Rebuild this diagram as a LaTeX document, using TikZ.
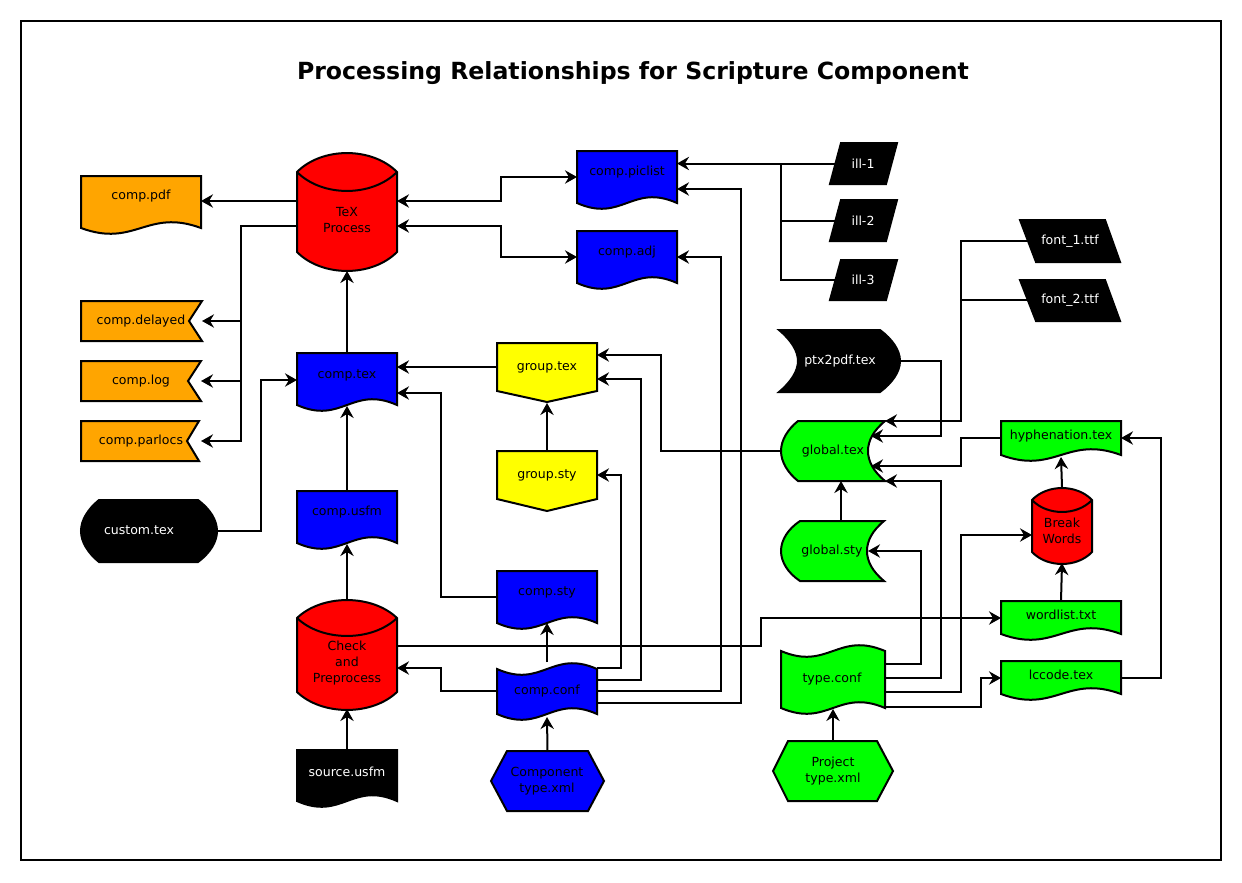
\documentclass[tikz,border=0pt]{standalone}
\usepackage{fontspec}
\setmainfont{DejaVu Sans}
\usetikzlibrary{arrows.meta}
\definecolor{dorange}{HTML}{FFA500}
\definecolor{dgreen}{HTML}{00FF00}
\definecolor{dblue}{HTML}{0000FF}
\definecolor{dred}{HTML}{FF0000}
\definecolor{dyellow}{HTML}{FFFF00}
\newcommand\docshape[5]{%
 \filldraw[shp,fill=#1] (#2,#3) -- (#4,#3) -- (#4,#5) .. controls ({#2+0.55*(#4-#2)},{#5-20}) and ({#2+0.45*(#4-#2)},{#5+20}) .. (#2,#5) -- cycle;}
\newcommand\tapeshape[5]{%
 \filldraw[shp,fill=#1] (#2,#3) .. controls ({#2+0.45*(#4-#2)},{#3+20}) and ({#2+0.55*(#4-#2)},{#3-20}) .. (#4,#3) -- (#4,#5) .. controls ({#2+0.55*(#4-#2)},{#5-20}) and ({#2+0.45*(#4-#2)},{#5+20}) .. (#2,#5) -- cycle;}
\newcommand\cylshape[6]{%
 \filldraw[shp,fill=#1] (#2,#4) .. controls ({#2+0.25*(#3-#2)},{#4-1.33*#6}) and ({#3-0.25*(#3-#2)},{#4-1.33*#6}) .. (#3,#4) -- (#3,#5) .. controls ({#3-0.25*(#3-#2)},{#5+1.33*#6}) and ({#2+0.25*(#3-#2)},{#5+1.33*#6}) .. (#2,#5) -- cycle;
 \draw[shp] (#2,#4) .. controls ({#2+0.25*(#3-#2)},{#4+1.33*#6}) and ({#3-0.25*(#3-#2)},{#4+1.33*#6}) .. (#3,#4);}
\newcommand\flagshape[6]{%
 \filldraw[shp,fill=#1] (#2,#3) -- (#4,#3) -- (#6,{(#3+#5)/2}) -- (#4,#5) -- (#2,#5) -- cycle;}
\newcommand\pentshape[6]{%
 \filldraw[shp,fill=#1] (#2,#3) -- (#4,#3) -- (#4,#5) -- ({(#2+#4)/2},#6) -- (#2,#5) -- cycle;}
\newcommand\hexshape[7]{%
 \filldraw[shp,fill=#1] (#2,{(#6+#7)/2}) -- (#3,#6) -- (#4,#6) -- (#5,{(#6+#7)/2}) -- (#4,#7) -- (#3,#7) -- cycle;}
\newcommand\parashape[6]{%
 \filldraw[shp,fill=black] (#1,#5) -- (#2,#5) -- (#4,#6) -- (#3,#6) -- cycle;}
\newcommand\boxnode[5]{%
 \pgfmathsetmacro\bxw{(#4-#2)*0.75}\pgfmathsetmacro\bxh{(#5-#3)*0.75}%
 \node[inner sep=0pt,outer sep=0pt,minimum width=\bxw pt,minimum height=\bxh pt] (#1) at ({(#2+#4)/2},{(#3+#5)/2}) {};}
\begin{document}
\begin{tikzpicture}[x=0.75pt,y=-0.75pt,
  conn/.style={line width=1.5pt,line join=miter},
  arr/.style={conn,-{Stealth[length=9pt,width=10pt,inset=3pt]}},
  arrb/.style={conn,{Stealth[length=9pt,width=10pt,inset=3pt]}-{Stealth[length=9pt,width=10pt,inset=3pt]}},
  shp/.style={line width=1.5pt,draw=black,line join=miter},
  lbl/.style={font=\fontsize{9.4}{12}\selectfont,align=center,inner sep=0pt},
  wlbl/.style={lbl,text=white}]
\fill[white] (0,0) rectangle (1242,882);
\useasboundingbox (0,0) rectangle (1242,882);
\draw[line width=1.9pt] (21,21) rectangle (1221,860);
\node[font=\bfseries\fontsize{17.7}{20}\selectfont] (title) at (633,73) {Processing Relationships for Scripture Component};

% ---- node boxes
\boxnode{cpdf}{81}{176}{201}{234}
\boxnode{tex}{297}{151}{397}{271}
\boxnode{cdel}{81}{301}{202}{341}
\boxnode{clog}{81}{361}{201}{401}
\boxnode{cpar}{81}{421}{199}{461}
\boxnode{cust}{81}{500}{217}{562}
\boxnode{ctex}{297}{353}{397}{411}
\boxnode{cusfm}{297}{491}{397}{549}
\boxnode{chk}{297}{601}{397}{709}
\boxnode{src}{297}{750}{397}{808}
\boxnode{pic}{577}{151}{677}{209}
\boxnode{adj}{577}{231}{677}{289}
\boxnode{illa}{836}{143}{891}{184}
\boxnode{illb}{836}{200}{891}{241}
\boxnode{illc}{836}{260}{891}{300}
\boxnode{fa}{1028}{220}{1112}{262}
\boxnode{fb}{1028}{280}{1112}{320}
\boxnode{ptx}{779}{330}{900}{392}
\boxnode{gltex}{781}{421}{885}{481}
\boxnode{glsty}{781}{521}{885}{581}
\boxnode{hyp}{1001}{421}{1121}{461}
\boxnode{bw}{1032}{487}{1092}{563}
\boxnode{wl}{1001}{601}{1121}{639}
\boxnode{lcc}{1001}{661}{1121}{699}
\boxnode{tconf}{781}{643}{885}{716}
\boxnode{cconf}{497}{662}{597}{720}
\boxnode{ctype}{491}{751}{604}{811}
\boxnode{ptype}{773}{741}{893}{801}
\boxnode{gtex}{497}{343}{597}{403}
\boxnode{gsty}{497}{451}{597}{511}
\boxnode{csty}{497}{571}{597}{630}

% ---- connectors
\draw[arr] (tex.west |- 0,201) -- (cpdf.east |- 0,201);
\draw[arr] (tex.west |- 0,226) -- (241,226) |- (cdel.east);
\draw[arr] (tex.west |- 0,226) -- (241,226) |- (clog.east);
\draw[arr] (tex.west |- 0,226) -- (241,226) |- ([xshift=1.5pt]cpar.east);
\draw[arr] (ctex.north) -- (tex.south);
\draw[arrb] (tex.east |- 0,201) -- (501,201) |- (pic.west |- 0,177);
\draw[arrb] (tex.east |- 0,226) -- (501,226) |- (adj.west |- 0,257);
\draw[arr] (illa.west) -- (pic.east |- 0,163.5);
\draw[conn] (illb.west) -- (781,220.5) -- (781,163.5);
\draw[conn] (illc.west) -- (781,280) -- (781,163.5);
\draw[arr] (cconf.east |- 0,703) -- (741,703) |- (pic.east |- 0,189);
\draw[arr] (cconf.east |- 0,691) -- (721,691) |- (adj.east |- 0,257);
\draw[arr] (cconf.east |- 0,680) -- (641,680) |- (gtex.east |- 0,379);
\draw[arr] (cconf.east |- 0,668) -- (621,668) |- (gsty.east |- 0,475);
\draw[arr] (gltex.west) -- (661,451) |- (gtex.east |- 0,355);
\draw[arr] (gtex.west |- 0,367) -- (ctex.east |- 0,367);
\draw[arr] (csty.west |- 0,597) -- (441,597) |- (ctex.east |- 0,393);
\draw[arr] (gsty.north) -- (gtex.south);
\draw[arr] (cconf.north) -- (csty.center |- 0,623);
\draw[arr] (cconf.west |- 0,691) -- (441,691) |- (chk.east |- 0,668);
\draw[arr] (ctype.north) -- (cconf.center |- 0,717);
\draw[arr] (src.north) -- (chk.south);
\draw[arr] (chk.north) -- (cusfm.center |- 0,544);
\draw[arr] (cusfm.north) -- (ctex.center |- 0,406);
\draw[arr] (cust.east) -- (261,531) |- (ctex.west |- 0,380);
\draw[arr] (chk.east |- 0,646) -- (761,646) |- (wl.west |- 0,618);
\draw[arr] (ptx.east) -- (941,361) |- (871,436);
\draw[arr] (fa.west) -- (961,241) |- (gltex.north east);
\draw[conn] (fb.west) -- (961,300);
\draw[arr] (hyp.west |- 0,438) -- (961,438) |- (871,466);
\draw[arr] (tconf.east |- 0,678) -- (941,678) |- (gltex.south east);
\draw[arr] (tconf.east |- 0,664) -- (921,664) |- (868,551);
\draw[arr] (glsty.north -| 841,0) -- (gltex.south -| 841,0);
\draw[arr] (tconf.east |- 0,692) -- (961,692) |- (bw.west |- 0,535);
\draw[arr] (tconf.east |- 0,707) -- (981,707) |- (lcc.west |- 0,678);
\draw[arr] (lcc.east |- 0,678) -- (1161,678) |- (hyp.east |- 0,438);
\draw[arr] (bw.north) -- (hyp.center |- 0,457);
\draw[arr] (wl.north) -- (bw.south);
\draw[arr] (ptype.north) -- (tconf.center |- 0,709);

% ---- shapes
\docshape{dorange}{81}{176}{201}{228}
\cylshape{dred}{297}{397}{172}{252}{19}
\flagshape{dorange}{81}{301}{202}{341}{189}
\flagshape{dorange}{81}{361}{201}{401}{188}
\flagshape{dorange}{81}{421}{199}{461}{187}
\filldraw[shp,fill=black] (99,500) -- (198,500) .. controls (210,509) and (217,520) .. (217,531) .. controls (217,542) and (210,553) .. (198,562) -- (99,562) .. controls (88,553) and (81,542) .. (81,531) .. controls (81,520) and (88,509) .. (99,500) -- cycle;
\docshape{dblue}{297}{353}{397}{405}
\docshape{dblue}{297}{491}{397}{543}
\cylshape{dred}{297}{397}{618}{692}{18}
\docshape{black}{297}{750}{397}{801}
\docshape{dblue}{577}{151}{677}{203}
\docshape{dblue}{577}{231}{677}{283}
\parashape{841}{897}{830}{886}{143}{184}
\parashape{841}{897}{830}{886}{200}{241}
\parashape{841}{897}{830}{886}{260}{300}
\parashape{1020}{1105}{1036}{1120}{220}{262}
\parashape{1020}{1105}{1036}{1120}{280}{321}
\filldraw[shp,fill=black] (779,330) -- (880,330) .. controls (892,339) and (900,350) .. (900,361) .. controls (900,372) and (892,383) .. (880,392) -- (779,392) .. controls (791,382) and (798,371) .. (798,361) .. controls (798,351) and (791,340) .. (779,330) -- cycle;
\filldraw[shp,fill=dgreen] (798,421) -- (885,421) .. controls (873,431) and (868,441) .. (868,451) .. controls (868,461) and (873,471) .. (885,481) -- (798,481) .. controls (788,473) and (781,462) .. (781,451) .. controls (781,440) and (788,429) .. (798,421) -- cycle;
\filldraw[shp,fill=dgreen] (800,521) -- (884,521) .. controls (872,531) and (867,541) .. (867,551) .. controls (867,561) and (872,571) .. (884,581) -- (800,581) .. controls (788,573) and (781,562) .. (781,551) .. controls (781,540) and (788,529) .. (800,521) -- cycle;
\docshape{dgreen}{1001}{421}{1121}{455}
\cylshape{dred}{1032}{1092}{500}{552}{12}
\docshape{dgreen}{1001}{601}{1121}{634}
\docshape{dgreen}{1001}{661}{1121}{694}
\tapeshape{dgreen}{781}{651}{885}{708}
\tapeshape{dblue}{497}{669}{597}{714}
\hexshape{dblue}{491}{507}{588}{604}{751}{811}
\hexshape{dgreen}{773}{788}{877}{893}{741}{801}
\pentshape{dyellow}{497}{343}{597}{391}{402}
\pentshape{dyellow}{497}{451}{597}{499}{511}
\docshape{dblue}{497}{571}{597}{623}

% ---- labels
\node[lbl] (tcpdf) at (141,196) {comp.pdf};
\node[lbl] (ttex) at (347,220) {TeX\\Process};
\node[lbl] (tcdel) at (141,321) {comp.delayed};
\node[lbl] (tclog) at (141,381) {comp.log};
\node[lbl] (tcpar) at (141,441) {comp.parlocs};
\node[wlbl] (tcust) at (139,530) {custom.tex};
\node[lbl] (tctex) at (347,375) {comp.tex};
\node[lbl] (tcusfm) at (347,512) {comp.usfm};
\node[lbl] (tchk) at (347,663) {Check\\and\\Preprocess};
\node[wlbl] (tsrc) at (347,772) {source.usfm};
\node[lbl] (tpic) at (627,172) {comp.piclist};
\node[lbl] (tadj) at (627,252) {comp.adj};
\node[wlbl] (tilla) at (863,164) {ill-1};
\node[wlbl] (tillb) at (863,221) {ill-2};
\node[wlbl] (tillc) at (863,280) {ill-3};
\node[wlbl] (tfa) at (1070,241) {font\_1.ttf};
\node[wlbl] (tfb) at (1070,300) {font\_2.ttf};
\node[wlbl] (tptx) at (840,361) {ptx2pdf.tex};
\node[lbl] (tgltex) at (833,451) {global.tex};
\node[lbl] (tglsty) at (832,551) {global.sty};
\node[lbl] (thyp) at (1061,436) {hyphenation.tex};
\node[lbl] (tbw) at (1062,531) {Break\\Words};
\node[lbl] (twl) at (1061,615) {wordlist.txt};
\node[lbl] (tlcc) at (1061,675) {lccode.tex};
\node[lbl] (ttconf) at (832,679) {type.conf};
\node[lbl] (tcconf) at (547,691) {comp.conf};
\node[lbl] (tctype) at (547,781) {Component\\type.xml};
\node[lbl] (tptype) at (833,771) {Project\\type.xml};
\node[lbl] (tgtex) at (547,367) {group.tex};
\node[lbl] (tgsty) at (547,475) {group.sty};
\node[lbl] (tcsty) at (547,592) {comp.sty};
\end{tikzpicture}
\end{document}
